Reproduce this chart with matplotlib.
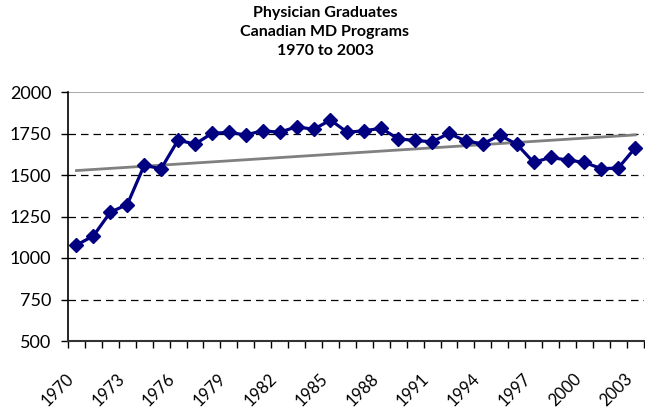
import numpy as np
import matplotlib
matplotlib.use("Agg")
import matplotlib.pyplot as plt
import matplotlib.transforms as mtransforms

# Data
years = list(range(1970, 2004))
graduates = [1078, 1133, 1276, 1322, 1558, 1538, 1710, 1686, 1751, 1757,
             1741, 1767, 1757, 1791, 1775, 1831, 1757, 1767, 1781, 1718,
             1708, 1700, 1751, 1704, 1688, 1739, 1686, 1576, 1606, 1590,
             1576, 1538, 1542, 1664]
y_ticks = [500, 750, 1000, 1250, 1500, 1750, 2000]

plt.rcParams["font.family"] = ["Lato", "DejaVu Sans"]

fig = plt.figure(figsize=(6.45, 4.13), dpi=100)
ax = fig.add_axes([68 / 645, 1 - 341 / 413, 1 - 68 / 645 - 0.002, (341 - 92) / 413])

x = np.arange(len(years))

# Linear trend line
coef = np.polyfit(x, graduates, 1)
ax.plot(x, np.polyval(coef, x), color="#808080", linewidth=2, zorder=2)

ax.plot(x, graduates, color="#000080", linewidth=2.3, marker="D",
        markersize=7, zorder=3)

# Gridlines
for v in y_ticks[1:-1]:
    ax.axhline(v, color="black", linestyle=(0, (6, 4)), linewidth=0.9, zorder=1)
ax.axhline(2000, color="#999999", linewidth=1.2, zorder=1)

ax.set_ylim(500, 2000)
ax.set_yticks(y_ticks)
ax.set_xlim(-0.5, len(years) - 0.5)
ax.set_xticks(x[::3])
ax.set_xticklabels([str(y) for y in years[::3]], rotation=45, ha="right",
                   va="top", rotation_mode="anchor")
ax.set_xticks(np.arange(-0.5, len(years)), minor=True)
ax.tick_params(axis="x", which="major", length=0, labelsize=12, pad=21)
ax.tick_params(axis="x", which="minor", length=5, width=1, direction="out")
ax.tick_params(axis="y", length=5, width=1, labelsize=13, pad=7)

shift = mtransforms.ScaledTranslation(-11 / 100, 0, fig.dpi_scale_trans)
for lab in ax.get_xticklabels():
    lab.set_transform(lab.get_transform() + shift)

for s in ["top", "right"]:
    ax.spines[s].set_visible(False)
ax.spines["left"].set_linewidth(1.2)
ax.spines["bottom"].set_linewidth(1.5)
ax.spines["bottom"].set_color("#333333")

fig.text(325 / 645, 0.985, "Physician Graduates\nCanadian MD Programs\n1970 to 2003",
         ha="center", va="top", fontsize=11.5, fontweight="bold", linespacing=1.45)

fig.savefig("out.png", dpi=100)
